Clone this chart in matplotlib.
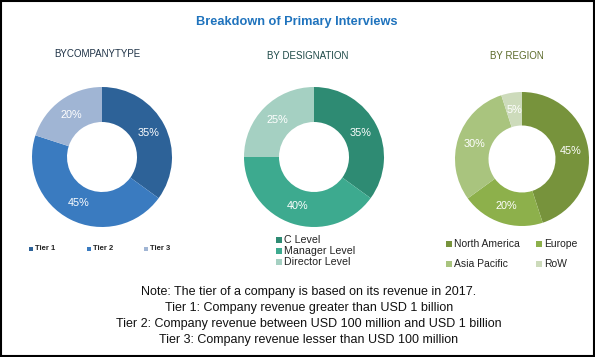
import numpy as np
import matplotlib.pyplot as plt
from matplotlib.patches import Rectangle

# data
tier_labels = ['Tier 1', 'Tier 2', 'Tier 3']
tier_values = [35, 45, 20]
desig_labels = ['C Level', 'Manager Level', 'Director Level']
desig_values = [35, 40, 25]
region_labels = ['North America', 'Europe', 'Asia Pacific', 'RoW']
region_values = [45, 20, 30, 5]

tier_colors = ['#2D6298', '#3A7BC0', '#A0B5D4']
desig_colors = ['#2E8B73', '#3DAA8F', '#A5D0C2']
region_colors = ['#77933C', '#8DB04B', '#A9C47E', '#CDDBBB']

W, H = 595, 357
fig = plt.figure(figsize=(W / 100, H / 100), dpi=100)
fig.patch.set_facecolor('white')
fig.add_artist(Rectangle((0.002, 0.003), 0.996, 0.994, transform=fig.transFigure,
                         fill=False, edgecolor='black', linewidth=1.5))

font = ['Liberation Sans', 'DejaVu Sans']


def donut(cx, cy, r, values, colors):
    ax = fig.add_axes([(cx - r) / W, (H - cy - r) / H, 2 * r / W, 2 * r / H])
    ax.pie(values, colors=colors, startangle=90, counterclock=False,
           radius=1, wedgeprops=dict(width=0.5, edgecolor='none'))
    ang = 90
    for v in values:
        mid = np.deg2rad(ang - v * 3.6 / 2)
        ax.text(0.74 * np.cos(mid), 0.74 * np.sin(mid), f'{v}%', ha='center', va='center',
                color='white', fontsize=7.8, family=font)
        ang -= v * 3.6
    ax.set_xlim(-1, 1)
    ax.set_ylim(-1, 1)
    ax.set_aspect('equal')
    ax.axis('off')
    return ax


donut(102, 157, 70, tier_values, tier_colors)
donut(314, 157, 70, desig_values, desig_colors)
donut(522, 159, 67, region_values, region_colors)

fig.text(297 / W, 1 - 22 / H, 'Breakdown of Primary Interviews', ha='center', va='center',
         fontsize=9.2, fontweight='bold', color='#1F73BD', family=font)
fig.text(97 / W, 1 - 54 / H, 'BYCOMPANYTYPE', ha='center', va='center',
         fontsize=7, color='#1E3246', family=font)
fig.text(308 / W, 1 - 56 / H, 'BY DESIGNATION', ha='center', va='center',
         fontsize=7, color='#1E4A48', family=font)
fig.text(517 / W, 1 - 56 / H, 'BY REGION', ha='center', va='center',
         fontsize=7, color='#5C6B2A', family=font)


def legend_item(x, y, label, color, size, fs, weight='normal'):
    fig.add_artist(Rectangle((x / W, (H - y - size / 2) / H), size / W, size / H,
                             transform=fig.transFigure, facecolor=color, edgecolor='none'))
    fig.text((x + size + 2) / W, 1 - y / H, label, ha='left', va='center',
             fontsize=fs, color='#222222', family=font, fontweight=weight)


for x, lab, c in zip([29, 87, 144], tier_labels, tier_colors):
    legend_item(x, 249, lab, c, 4, 5.5, 'bold')

for y, lab, c in zip([240, 251, 262], desig_labels, desig_colors):
    legend_item(276, y, lab, c, 6, 7.7)

for (x, y), lab, c in zip([(446, 244), (536, 244), (446, 264), (536, 264)],
                          region_labels, region_colors):
    legend_item(x, y, lab, c, 6, 7.5)

note = ['Note: The tier of a company is based on its revenue in 2017.',
        'Tier 1: Company revenue greater than USD 1 billion',
        'Tier 2: Company revenue between USD 100 million and USD 1 billion',
        'Tier 3: Company revenue lesser than USD 100 million']
for i, line in enumerate(note):
    fig.text(309 / W, 1 - (292 + 16 * i) / H, line, ha='center', va='center',
             fontsize=9, color='#111111', family=font)

fig.savefig('out.png', dpi=100)
